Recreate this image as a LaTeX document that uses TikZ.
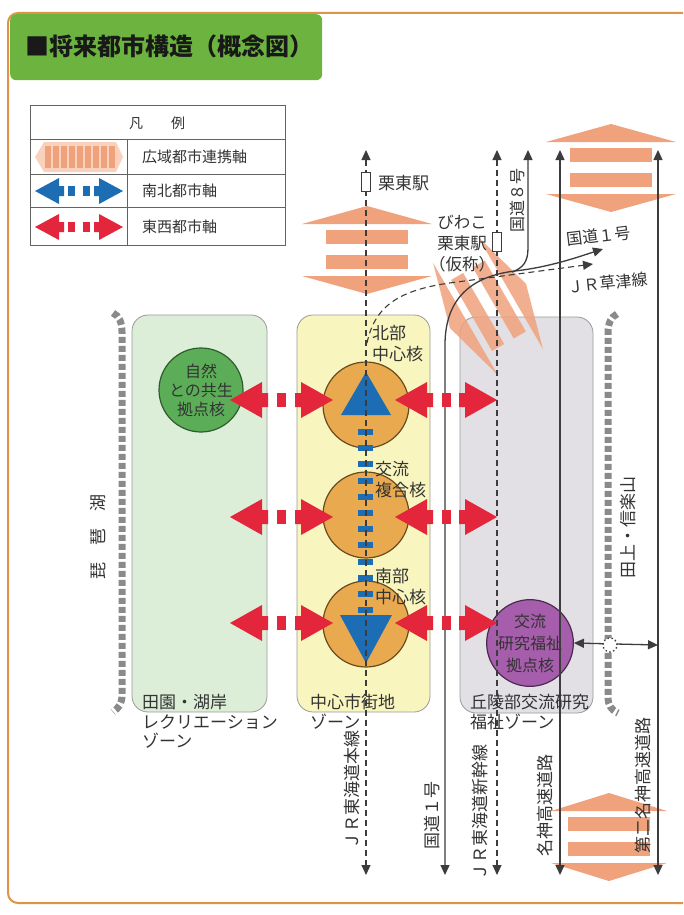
\documentclass[tikz,border=0pt]{standalone}
\usepackage{fontspec}
\setmainfont{Noto Sans CJK JP}
\usetikzlibrary{arrows.meta}
\definecolor{framec}{HTML}{DE9445}
\definecolor{titlegreen}{HTML}{6CB43F}
\definecolor{salmon}{HTML}{F0A27C}
\definecolor{palesalmon}{HTML}{F8D2BC}
\definecolor{zonegreen}{HTML}{DCEED8}
\definecolor{zoneyellow}{HTML}{F8F6BE}
\definecolor{zonegray}{HTML}{E2E0E5}
\definecolor{zoneline}{HTML}{9A9A9A}
\definecolor{natgreen}{HTML}{5BAE57}
\definecolor{natdark}{HTML}{2F5A2F}
\definecolor{coreorange}{HTML}{E8A94F}
\definecolor{coredark}{HTML}{6B4A1F}
\definecolor{corepurple}{HTML}{A65DAB}
\definecolor{purpledark}{HTML}{4A2A4F}
\definecolor{axisblue}{HTML}{1D6DB4}
\definecolor{axisred}{HTML}{E3263B}
\definecolor{linegray}{HTML}{3C3C3C}
\definecolor{txt}{HTML}{333333}
\definecolor{bracketgray}{HTML}{8A8A8A}

\newcommand\widearrow[4]{%
 \begin{scope}[shift={(#1,#2)},rotate=#3]
  \fill[salmon] (0,-44) -- (#4,-26) -- (-#4,-26) -- cycle;
  \fill[salmon] (-41,-20) rectangle (41,-6);
  \fill[salmon] (-41,5) rectangle (41,19);
  \fill[salmon] (0,44) -- (#4,26) -- (-#4,26) -- cycle;
 \end{scope}}
\newcommand\ewarrow[3]{%
 \fill[axisred] (#1,#3) -- ({#1+32},{#3-18}) -- ({#1+32},{#3-7}) -- ({#1+38},{#3-7}) -- ({#1+38},{#3+7}) -- ({#1+32},{#3+7}) -- ({#1+32},{#3+18}) -- cycle;
 \fill[axisred] ({(#1+#2)/2-4.5},{#3-7}) rectangle ({(#1+#2)/2+4.5},{#3+7});
 \fill[axisred] (#2,#3) -- ({#2-32},{#3-18}) -- ({#2-32},{#3-7}) -- ({#2-38},{#3-7}) -- ({#2-38},{#3+7}) -- ({#2-32},{#3+7}) -- ({#2-32},{#3+18}) -- cycle;}
\newcommand\legarrow[2]{%
 \fill[#1] (35,#2) -- (59,{#2-13}) -- (59,{#2-5}) -- (64,{#2-5}) -- (64,{#2+5}) -- (59,{#2+5}) -- (59,{#2+13}) -- cycle;
 \fill[#1] (68,{#2-5}) rectangle (75,{#2+5});
 \fill[#1] (83,{#2-5}) rectangle (90,{#2+5});
 \fill[#1] (123,#2) -- (99,{#2-13}) -- (99,{#2-5}) -- (94,{#2-5}) -- (94,{#2+5}) -- (99,{#2+5}) -- (99,{#2+13}) -- cycle;}

\begin{document}
\begin{tikzpicture}[x=1pt,y=-1pt,
 >={Triangle[length=10pt,width=9pt]},
 lbl/.style={text=txt,inner sep=0pt,font=\fontsize{17}{21}\selectfont},
 vlbl/.style={lbl,rotate=90},
 zone/.style={draw=zoneline,line width=0.8,rounded corners=16,inner sep=0pt},
 core/.style={circle,line width=1.2,inner sep=0pt,align=center,text=txt},
 road/.style={draw=linegray,line width=1.3},
 jrline/.style={road,line width=1.1,dash pattern=on 6pt off 4pt},
 station/.style={draw=linegray,fill=white,line width=0.8,minimum width=9,minimum height=19,inner sep=0pt},
 legline/.style={draw=linegray!80,line width=0.8},
 bracket/.style={draw=bracketgray,line width=7,dash pattern=on 6pt off 3pt},
 junction/.style={circle,fill=white,draw=linegray,line width=1.3,dash pattern=on 1.5pt off 2.5pt,minimum size=14,inner sep=0pt}]
\useasboundingbox (0,0) rectangle (683,915);
\fill[white] (0,0) rectangle (683,915);
\begin{scope}
 \clip (0,0) rectangle (683,915);
 \draw[framec,line width=2,rounded corners=10] (8,13) rectangle (720,903);
\end{scope}
% title
\node[fill=titlegreen,rounded corners=6,minimum width=312,minimum height=66,anchor=north west,inner sep=0pt] (title) at (10,14) {};
\node[anchor=west,inner sep=0pt,text=black!90,font=\fontsize{24}{28}\selectfont\bfseries] (titletext) at (25,46) {■将来都市構造（概念図）};
% legend
\draw[legline] (30,105) rectangle (285,245);
\draw[legline] (30,139) -- (285,139);
\draw[legline] (30,174) -- (285,174);
\draw[legline] (30,207) -- (285,207);
\draw[legline] (127,139) -- (127,245);
\node[lbl,font=\fontsize{14}{17}\selectfont] (leghead) at (157,123) {凡\hspace{2em}例};
\fill[palesalmon] (35,157) -- (44,142) -- (116,142) -- (123,157) -- (116,172) -- (44,172) -- cycle;
\foreach \i in {0,...,8} \fill[salmon] ({45+8*\i},146) rectangle ({51+8*\i},168);
\legarrow{axisblue}{191}
\legarrow{axisred}{227}
\node[lbl,anchor=west,font=\fontsize{15}{18}\selectfont] (leg1) at (142,157) {広域都市連携軸};
\node[lbl,anchor=west,font=\fontsize{15}{18}\selectfont] (leg2) at (142,191) {南北都市軸};
\node[lbl,anchor=west,font=\fontsize{15}{18}\selectfont] (leg3) at (142,227) {東西都市軸};
% wide-area axes
\widearrow{367}{250}{0}{65}
\widearrow{611}{168}{0}{65}
\widearrow{609}{837}{0}{58}
% zones
\node[zone,fill=zonegreen,minimum width=135,minimum height=397] (zoneW) at (199.5,513.5) {};
\node[zone,fill=zoneyellow,minimum width=133,minimum height=397] (zoneC) at (363.5,513.5) {};
\node[zone,fill=zonegray,minimum width=133,minimum height=396] (zoneE) at (526.5,515) {};
\begin{scope}[opacity=0.85]
\widearrow{488}{306}{-60}{65}
\end{scope}
% brackets
\draw[bracket] (113,313) .. controls (119,316) and (122,322) .. (122,332) -- (122,695) .. controls (122,703) and (119,708) .. (113,712);
\draw[bracket] (617,314) .. controls (611,317) and (608,323) .. (608,333) -- (608,697) .. controls (608,705) and (611,710) .. (618,713);
% cores
\node[core,fill=natgreen,draw=natdark,minimum size=84,font=\fontsize{16}{19}\selectfont] (nature) at (201,390) {自然\\との共生\\拠点核};
\node[core,fill=coreorange,draw=coredark,minimum size=86] (coreN) at (366,405) {};
\node[core,fill=coreorange,draw=coredark,minimum size=86] (coreX) at (366,515) {};
\node[core,fill=coreorange,draw=coredark,minimum size=86] (coreS) at (366,624) {};
\node[core,fill=corepurple,draw=purpledark,minimum size=86,font=\fontsize{16}{22}\selectfont] (exch) at (530,643) {交流\\研究福祉\\拠点核};
\fill[axisblue] (366,372) -- (391,415) -- (341,415) -- cycle;
\fill[axisblue] (340,615) -- (392,615) -- (366,663) -- cycle;
\foreach \i in {0,...,11} \fill[axisblue] (357.5,{432+16.2*\i-3}) rectangle (372.5,{432+16.2*\i+3});
% lines
\coordinate (jrT) at (366,150); \coordinate (jrB) at (366,875);
\coordinate (shT) at (497,150); \coordinate (shB) at (497,875);
\coordinate (mhT) at (560,150); \coordinate (mhB) at (560,875);
\coordinate (d2T) at (658,150); \coordinate (d2B) at (658,875);
\coordinate (r1B) at (445,875); \coordinate (r1E) at (603,249);
\coordinate (r8T) at (528,150); \coordinate (r8M) at (512,272);
\coordinate (ksS) at (367,343); \coordinate (ksE) at (593,264);
\coordinate (d2J) at (658,645);
\draw[jrline,<->] (jrT) -- (jrB);
\draw[jrline,<->] (shT) -- (shB);
\draw[road,<->] (mhT) -- (mhB);
\draw[road,<->] (d2T) -- (d2B);
\draw[road,<->] (r1B) -- (445,345) .. controls (445,297) and (473,276) .. (515,271) .. controls (550,267) and (578,257) .. (r1E);
\draw[road,->] (r8M) .. controls (523,268) and (528,262) .. (528,248) -- (r8T);
\draw[jrline,->] (ksS) .. controls (375,305) and (400,289) .. (457,282) -- (ksE);
\draw[road,<->] (exch.east) -- (d2J);
\node[junction] (jn) at (610,645) {};
\node[station] (ritto) at (366,182) {};
\node[station] (biwako) at (497,242) {};
% east-west axes
\ewarrow{230}{333}{400}
\ewarrow{395}{497}{400}
\ewarrow{230}{333}{517}
\ewarrow{395}{497}{517}
\ewarrow{230}{333}{623}
\ewarrow{395}{497}{623}
% labels
\node[lbl,anchor=west] (lzW1) at (142,702) {田園・湖岸};
\node[lbl,anchor=west] (lzW2) at (142,722) {レクリエーション};
\node[lbl,anchor=west] (lzW3) at (142,741) {ゾーン};
\node[lbl,anchor=west] (lzC1) at (310,702) {中心市街地};
\node[lbl,anchor=west] (lzC2) at (310,722) {ゾーン};
\node[lbl,anchor=west] (lzE1) at (470,702) {丘陵部交流研究};
\node[lbl,anchor=west] (lzE2) at (470,722) {福祉ゾーン};
\node[lbl,anchor=west] (lritto) at (378,183) {栗東駅};
\node[lbl,align=center,font=\fontsize{16.5}{21}\selectfont] (lbiwako) at (462,244) {びわこ\\栗東駅\\（仮称）};
\node[vlbl,font=\fontsize{16}{19}\selectfont] (lr8) at (517,200) {国道８号};
\node[lbl,rotate=7,font=\fontsize{16}{19}\selectfont] (lr1a) at (599,236) {国道１号};
\node[lbl,rotate=6,font=\fontsize{16}{19}\selectfont] (lks) at (608,283) {ＪＲ草津線};
\node[lbl,anchor=west,align=left] (lN) at (372,344) {北部\\中心核};
\node[lbl,anchor=west,align=left] (lX) at (375,480) {交流\\複合核};
\node[lbl,anchor=west,align=left] (lS) at (375,587) {南部\\中心核};
\node[vlbl] (ltanakami) at (628,527) {田上・信楽山};
\node[vlbl] (lbiwa) at (98,537) {琵\hspace{17pt}琶\hspace{17pt}湖};
\node[vlbl] (ljr) at (352,790) {ＪＲ東海道本線};
\node[vlbl] (lr1) at (432,815) {国道１号};
\node[vlbl] (lsh) at (480,812) {ＪＲ東海道新幹線};
\node[vlbl] (lmh) at (545,805) {名神高速道路};
\node[vlbl] (ld2) at (643,785) {第二名神高速道路};
\end{tikzpicture}
\end{document}
